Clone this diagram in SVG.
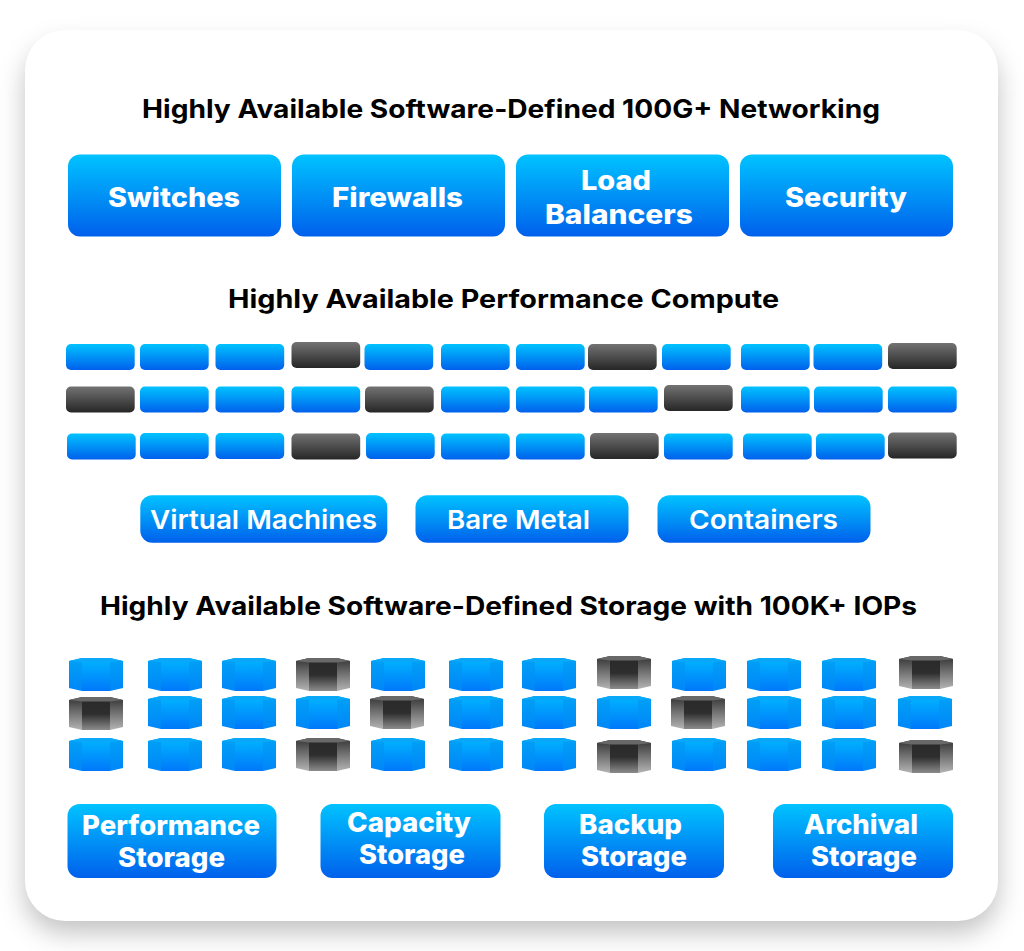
<svg xmlns="http://www.w3.org/2000/svg" xmlns:xlink="http://www.w3.org/1999/xlink" width="1024" height="951" viewBox="0 0 1024 951">
<style>
text{font-family:"Inter","Liberation Sans",sans-serif;font-weight:700}
.h{font-size:25px;fill:#000}
.l{font-size:27px;fill:#fff;font-weight:800}
.m{font-size:26px;fill:#fff;font-weight:600}
.b{fill:url(#blue)}
</style>
<defs>
<linearGradient id="blue" x1="0" y1="0" x2="0" y2="1"><stop offset="0" stop-color="#00c3ff"/><stop offset="1" stop-color="#0060ec"/></linearGradient>
<linearGradient id="dark" x1="0" y1="0" x2="0" y2="1"><stop offset="0" stop-color="#737373"/><stop offset="1" stop-color="#262626"/></linearGradient>
<linearGradient id="cbs" x1="0" y1="0" x2="0" y2="1"><stop offset="0" stop-color="#00a2f6"/><stop offset="1" stop-color="#0086f8"/></linearGradient>
<linearGradient id="cbc" x1="0" y1="0" x2="0" y2="1"><stop offset="0" stop-color="#00b0ff"/><stop offset="1" stop-color="#0078fa"/></linearGradient>
<linearGradient id="cds" x1="0" y1="0" x2="0" y2="1"><stop offset="0" stop-color="#333"/><stop offset="1" stop-color="#b4b4b4"/></linearGradient>
<linearGradient id="cdc" x1="0" y1="0" x2="0" y2="1"><stop offset="0" stop-color="#2a2a2a"/><stop offset="0.45" stop-color="#2e2e2e"/><stop offset="1" stop-color="#8c8c8c"/></linearGradient>
<filter id="sh" x="-10%" y="-10%" width="120%" height="120%"><feGaussianBlur stdDeviation="13"/></filter>
<symbol id="sb" width="69" height="26" overflow="visible"><rect width="68.700" height="26" rx="5" fill="url(#blue)"/></symbol>
<symbol id="sd" width="69" height="26" overflow="visible"><rect width="68.700" height="26" rx="5" fill="url(#dark)"/></symbol>
<symbol id="cb" width="54" height="33" overflow="visible">
<polygon points="0,3 13,0 41,0 54,3 54,30 41,33 13,33 0,30" fill="url(#cbs)"/>
<polygon points="13,3 41,3 41,33 13,33" fill="url(#cbc)"/>
<polygon points="0,3 13,0 41,0 54,3 41,4 13,4" fill="#0aa8f8"/>
</symbol>
<symbol id="cd" width="54" height="33" overflow="visible">
<polygon points="0,3 13,0 41,0 54,3 54,30 41,33 13,33 0,30" fill="url(#cds)"/>
<polygon points="13,4 41,4 41,33 13,33" fill="url(#cdc)"/>
<polygon points="0,3 13,0 41,0 54,3 41,4.500 13,4.500" fill="#686868"/>
</symbol>
</defs>
<rect width="1024" height="951" fill="#fff"/>
<g id="card">
<rect x="25" y="45" width="973" height="888" rx="40" fill="#000" fill-opacity="0.24" filter="url(#sh)"/>
<rect x="25" y="30" width="973" height="891" rx="40" fill="#fff"/>
</g>
<g id="networking">
<text class="h" x="142" y="118" textLength="738" lengthAdjust="spacingAndGlyphs">Highly Available Software-Defined 100G+ Networking</text>
<g id="switches"><rect class="b" x="68" y="154.500" width="213" height="82" rx="12"/><text class="l" x="108" y="207" textLength="132" lengthAdjust="spacingAndGlyphs">Switches</text></g>
<g id="firewalls"><rect class="b" x="292" y="154.500" width="213" height="82" rx="12"/><text class="l" x="332" y="207" textLength="131" lengthAdjust="spacingAndGlyphs">Firewalls</text></g>
<g id="load-balancers"><rect class="b" x="516" y="154.500" width="213" height="82" rx="12"/><text class="l" x="581" y="190" textLength="70" lengthAdjust="spacingAndGlyphs">Load</text><text class="l" x="545" y="224" textLength="148" lengthAdjust="spacingAndGlyphs">Balancers</text></g>
<g id="security"><rect class="b" x="740" y="154.500" width="213" height="82" rx="12"/><text class="l" x="785" y="207" textLength="122" lengthAdjust="spacingAndGlyphs">Security</text></g>
</g>
<g id="compute">
<text class="h" x="228" y="308" textLength="551" lengthAdjust="spacingAndGlyphs">Highly Available Performance Compute</text>
<g id="servers">
<use href="#sb" x="66" y="344"/><use href="#sb" x="140" y="344"/><use href="#sb" x="215.500" y="344"/><use href="#sd" x="291.500" y="342"/><use href="#sb" x="364.500" y="344"/><use href="#sb" x="441" y="344"/><use href="#sb" x="516" y="344"/><use href="#sd" x="588" y="344"/><use href="#sb" x="662" y="344"/><use href="#sb" x="741" y="344"/><use href="#sb" x="813.500" y="344"/><use href="#sd" x="888" y="343"/>
<use href="#sd" x="66" y="386.500"/><use href="#sb" x="140" y="386.500"/><use href="#sb" x="215.500" y="386.500"/><use href="#sb" x="291.500" y="386.500"/><use href="#sd" x="365" y="386.500"/><use href="#sb" x="441" y="386.500"/><use href="#sb" x="516" y="386.500"/><use href="#sb" x="589" y="386.500"/><use href="#sd" x="664" y="385"/><use href="#sb" x="741" y="386.500"/><use href="#sb" x="814" y="386.500"/><use href="#sb" x="888" y="386.500"/>
<use href="#sb" x="67" y="433.500"/><use href="#sb" x="140" y="433"/><use href="#sb" x="215.500" y="433"/><use href="#sd" x="291.500" y="433.500"/><use href="#sb" x="366" y="433"/><use href="#sb" x="441" y="433.500"/><use href="#sb" x="516" y="433.500"/><use href="#sd" x="590" y="433"/><use href="#sb" x="664" y="433.500"/><use href="#sb" x="743" y="433.500"/><use href="#sb" x="816" y="433.500"/><use href="#sd" x="888" y="432.500"/>
</g>
<g id="virtual-machines"><rect class="b" x="140.300" y="495.300" width="247" height="47.500" rx="12"/><text class="m" x="150" y="529" textLength="227" lengthAdjust="spacingAndGlyphs">Virtual Machines</text></g>
<g id="bare-metal"><rect class="b" x="415.500" y="495.300" width="213" height="47.500" rx="12"/><text class="m" x="447" y="529" textLength="143" lengthAdjust="spacingAndGlyphs">Bare Metal</text></g>
<g id="containers"><rect class="b" x="657.500" y="495.300" width="213" height="47.500" rx="12"/><text class="m" x="689" y="529" textLength="149" lengthAdjust="spacingAndGlyphs">Containers</text></g>
</g>
<g id="storage">
<text class="h" x="100" y="615" textLength="817" lengthAdjust="spacingAndGlyphs">Highly Available Software-Defined Storage with 100K+ IOPs</text>
<g id="drives">
<use href="#cb" x="69" y="658"/><use href="#cb" x="148" y="658"/><use href="#cb" x="222" y="658"/><use href="#cd" x="296" y="658"/><use href="#cb" x="371" y="658"/><use href="#cb" x="449" y="658"/><use href="#cb" x="522" y="658"/><use href="#cd" x="597" y="656"/><use href="#cb" x="672" y="658"/><use href="#cb" x="747" y="658"/><use href="#cb" x="822" y="658"/><use href="#cd" x="899" y="656"/>
<use href="#cd" x="69" y="697"/><use href="#cb" x="148" y="696"/><use href="#cb" x="222" y="696"/><use href="#cb" x="296" y="696"/><use href="#cd" x="370" y="696"/><use href="#cb" x="449" y="696"/><use href="#cb" x="522" y="696"/><use href="#cb" x="597" y="696"/><use href="#cd" x="671" y="696"/><use href="#cb" x="747" y="696"/><use href="#cb" x="822" y="696"/><use href="#cb" x="898" y="696"/>
<use href="#cb" x="69" y="738"/><use href="#cb" x="148" y="738"/><use href="#cb" x="222" y="738"/><use href="#cd" x="296" y="738"/><use href="#cb" x="371" y="738"/><use href="#cb" x="449" y="738"/><use href="#cb" x="522" y="738"/><use href="#cd" x="597" y="740"/><use href="#cb" x="672" y="738"/><use href="#cb" x="747" y="738"/><use href="#cb" x="822" y="738"/><use href="#cd" x="899" y="740"/>
</g>
<g id="performance-storage"><rect class="b" x="67.500" y="804" width="209" height="74" rx="12"/><text class="l" x="82" y="835" textLength="178" lengthAdjust="spacingAndGlyphs">Performance</text><text class="l" x="118" y="867" textLength="107" lengthAdjust="spacingAndGlyphs">Storage</text></g>
<g id="capacity-storage"><rect class="b" x="320.500" y="804" width="180" height="74" rx="12"/><text class="l" x="347" y="832" textLength="124" lengthAdjust="spacingAndGlyphs">Capacity</text><text class="l" x="359" y="864" textLength="106" lengthAdjust="spacingAndGlyphs">Storage</text></g>
<g id="backup-storage"><rect class="b" x="544" y="804" width="180" height="74" rx="12"/><text class="l" x="579" y="834" textLength="103" lengthAdjust="spacingAndGlyphs">Backup</text><text class="l" x="581" y="866" textLength="106" lengthAdjust="spacingAndGlyphs">Storage</text></g>
<g id="archival-storage"><rect class="b" x="773" y="804" width="180" height="74" rx="12"/><text class="l" x="804" y="834" textLength="114" lengthAdjust="spacingAndGlyphs">Archival</text><text class="l" x="811" y="866" textLength="106" lengthAdjust="spacingAndGlyphs">Storage</text></g>
</g>
</svg>
